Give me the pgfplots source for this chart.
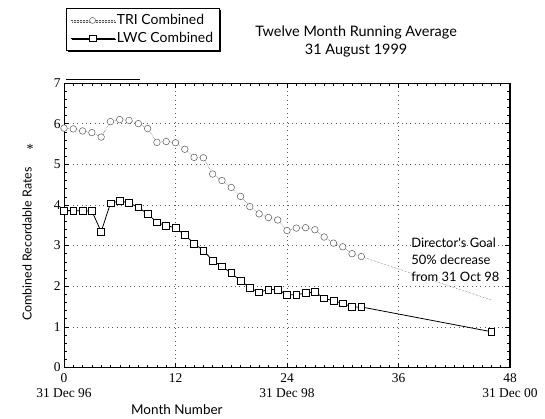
\documentclass[border=0pt]{standalone}
\usepackage{fontspec}
\usepackage{pgfplots}
\usepackage{pgfplotstable}
\pgfplotsset{compat=1.18}
\usetikzlibrary{shadows}
\setmainfont{Liberation Serif}
\newfontfamily\optima{Lato}

\pgfplotstableread{
x y
0 5.89
1 5.87
2 5.82
3 5.78
4 5.67
5 6.05
6 6.10
7 6.08
8 6.00
9 5.88
10 5.54
11 5.56
12 5.53
13 5.37
14 5.17
15 5.16
16 4.76
17 4.60
18 4.43
19 4.21
20 3.96
21 3.78
22 3.69
23 3.63
24 3.37
25 3.43
26 3.44
27 3.39
28 3.21
29 3.06
30 2.97
31 2.80
32 2.73
}\tri
\pgfplotstableread{
x y
32 2.73
46 1.66
}\triend
\pgfplotstableread{
x y
0 3.86
1 3.86
2 3.85
3 3.85
4 3.34
5 4.04
6 4.10
7 4.05
8 3.94
9 3.78
10 3.57
11 3.49
12 3.44
13 3.26
14 3.05
15 2.88
16 2.63
17 2.49
18 2.32
19 2.14
20 1.96
21 1.85
22 1.92
23 1.92
24 1.79
25 1.79
26 1.83
27 1.86
28 1.70
29 1.64
30 1.58
31 1.49
32 1.49
46 0.88
}\lwc

\begin{document}
\begin{tikzpicture}
\useasboundingbox (-64bp,-51.5bp) rectangle (481bp,367.5bp);
\begin{axis}[
  at={(0,0)}, anchor=south west,
  scale only axis, width=446bp, height=284.5bp,
  xmin=0, xmax=48, ymin=0, ymax=7,
  xtick={0,12,24,36,48},
  xticklabels={{0\\31 Dec 96},{12},{24\\31 Dec 98},{36},{48\\31 Dec 00}},
  ytick={0,1,...,7},
  minor x tick num=11, minor y tick num=4,
  tick pos=both, tick align=inside,
  major tick length=5bp, minor tick length=3bp,
  tick style={black, line width=0.5pt},
  grid=major,
  major grid style={loosely dotted, black!65, line width=0.7pt},
  axis line style={line width=0.6pt},
  /pgf/number format/assume math mode=true,
  x tick label style={align=center, font=\fontsize{13.5}{15}\selectfont, yshift=-3bp},
  y tick label style={font=\fontsize{13.5}{15}\selectfont},
  xlabel={Month Number},
  xlabel style={at={(axis description cs:0.253,-0.149)}, anchor=center, font=\optima\fontsize{13.5}{15}\selectfont},
  ylabel={Combined Recordable Rates},
  ylabel style={at={(axis description cs:-0.083,0.434)}, anchor=center, font=\optima\fontsize{12.5}{14}\selectfont},
  clip=false,
  legend style={at={(axis description cs:0.004,1.263)}, anchor=north west,
    draw=black, line width=0.8pt, fill=white,
    font=\optima\fontsize{14}{16}\selectfont,
    drop shadow={shadow xshift=1.5bp, shadow yshift=-1.5bp, fill=black, opacity=1},
    inner xsep=4bp, inner ysep=4bp, row sep=2bp},
  legend cell align=left,
  legend image code/.code={\draw[mark repeat=2,mark phase=2,#1] plot coordinates {(0bp,0bp) (22bp,0bp) (44bp,0bp)};},
]
\addlegendimage{black!65, densely dotted, line width=0.5pt, mark=*, mark size=3bp, mark options={solid, fill=white, draw=black!65, line width=0.5pt}}
\addlegendentry{TRI Combined}
\addlegendimage{black, line width=0.8pt, mark=square*, mark size=3.3bp, mark options={fill=white, line width=0.7pt}}
\addlegendentry{LWC Combined}

\addplot[forget plot, black!65, densely dotted, line width=0.5pt] table[x=x,y=y] {\triend};
\addplot[forget plot, black!65, densely dotted, line width=0.5pt, mark=*, mark size=3.3bp, mark options={solid, fill=white, draw=black!65, line width=0.5pt}] table[x=x,y=y] {\tri};
\addplot[forget plot, black, line width=0.8pt, mark=square*, mark size=3.4bp, mark options={fill=white, line width=0.7pt}] table[x=x,y=y] {\lwc};

\draw[line width=1.3pt] (axis cs:0.2,7.08) -- (axis cs:8.2,7.08);
\draw[line width=1.3pt] (axis cs:12,0) -- (axis cs:21.7,0);
\draw[line width=1.1pt] (axis cs:48,0) -- (axis cs:48,7);

\node[font=\optima\fontsize{14.5}{18}\selectfont, align=center] at (axis description cs:0.655,1.145) {Twelve Month Running Average\\31 August 1999};
\node[font=\optima\fontsize{13}{17}\selectfont, align=left, anchor=west] at (axis cs:37.0,2.64) {Director's Goal\\50\% decrease\\from 31 Oct 98};
\node[font=\fontsize{14}{14}\selectfont] at (axis description cs:-0.076,0.768) {*};
\end{axis}
\end{tikzpicture}
\end{document}
